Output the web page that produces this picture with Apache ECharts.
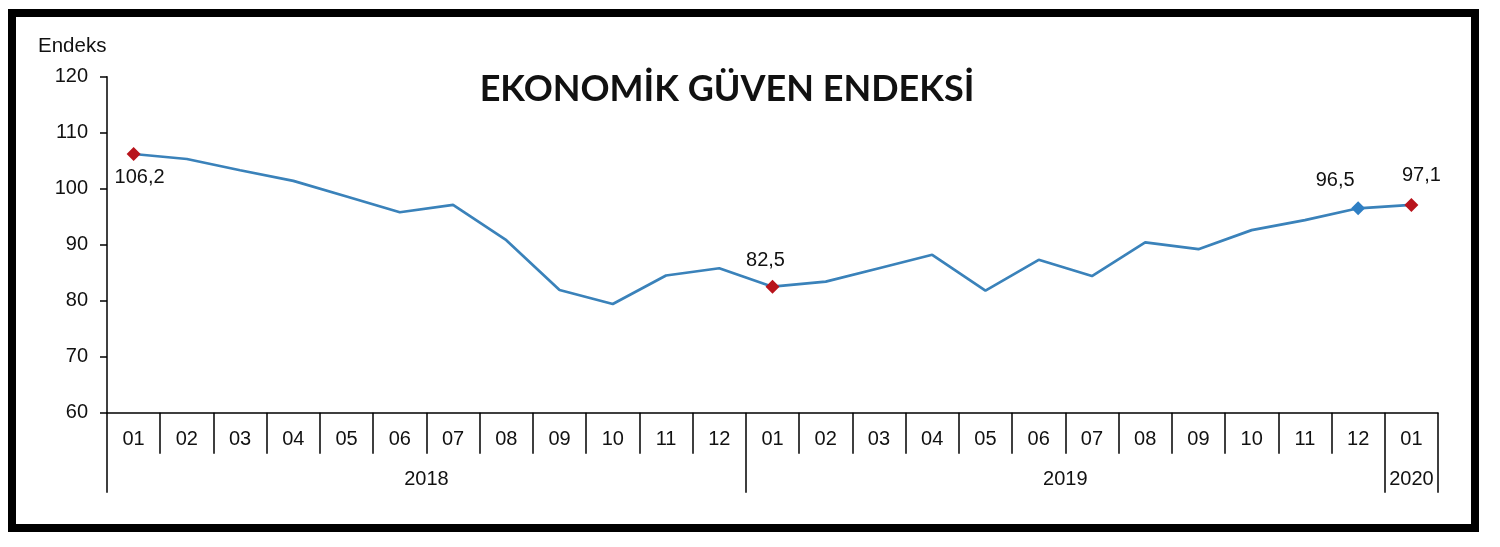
<!DOCTYPE html>
<html>
<head>
<meta charset="utf-8">
<script src="https://cdn.jsdelivr.net/npm/echarts@6/dist/echarts.min.js"></script>
<style>
html,body{margin:0;padding:0;background:#fff;}
#chart{width:1500px;height:547px;}
</style>
</head>
<body>
<div id="chart"></div>
<script>
// ---- Data ----
var months = ['01','02','03','04','05','06','07','08','09','10','11','12',
              '01','02','03','04','05','06','07','08','09','10','11','12','01'];
var values = [106.2,105.3,103.3,101.4,98.6,95.8,97.1,90.8,81.9,79.4,84.5,85.8,
              82.5,83.4,85.8,88.2,81.8,87.3,84.4,90.4,89.2,92.6,94.4,96.5,97.1];
var yearNames = ['2018','2019','2020'];
var yearStarts = [0,12,24];          // category index where each year starts
var yearEnds = [12,24,25];           // category index (exclusive) where each year ends
var redPoints = [0,12,24];
var bluePoints = [23];
var yTicks = [60,70,80,90,100,110,120];

var FONT = 'Liberation Sans';
var lineColor = '#3a82ba';
var red = '#b8141c';
var blue = '#2f7fc4';

function fmt(v){ return String(v.toFixed(1)).replace('.', ','); }

var labelCfg = {
  0:  {position:'bottom', distance:7, offset:[6,0]},
  12: {position:'top', distance:9, offset:[-7,0]},
  23: {position:'top', distance:11, offset:[-23,0]},
  24: {position:'top', distance:12, offset:[10,0]}
};

var seriesData = values.map(function(v,i){
  var isRed = redPoints.indexOf(i) >= 0, isBlue = bluePoints.indexOf(i) >= 0;
  var d = {value: v};
  if (isRed || isBlue) {
    d.symbol = 'diamond';
    d.symbolSize = 14;
    d.itemStyle = {color: isRed ? red : blue};
    var lc = labelCfg[i];
    d.label = {show:true, position:lc.position, distance:lc.distance, offset:lc.offset,
      formatter: function(p){ return fmt(p.value); },
      fontFamily: FONT, fontSize: 20, color:'#111'};
  } else {
    d.symbol = 'none';
  }
  return d;
});

var yearLabelPos = yearNames.map(function(n,i){ return (yearStarts[i]+yearEnds[i])/2; });
var yearTickPos = [0].concat(yearEnds);

var chart = echarts.init(document.getElementById('chart'), null, {renderer:'canvas'});
chart.setOption({
  animation:false,
  backgroundColor:'#fff',
  grid:{left:107, right:62, top:76.7, bottom:134.3, containLabel:false},
  xAxis:[{
    type:'category',
    data:months,
    boundaryGap:true,
    axisLine:{show:true, lineStyle:{color:'#000', width:1.5}},
    axisTick:{show:true, interval:0, length:41, lineStyle:{color:'#000', width:1.5}},
    axisLabel:{interval:0, margin:17, fontFamily:FONT, fontSize:20, color:'#111'},
    splitLine:{show:false}
  },{
    type:'value',
    position:'bottom',
    min:0, max:25,
    axisLine:{show:false},
    axisTick:{show:true, customValues:yearTickPos, length:80, lineStyle:{color:'#000', width:1.5}},
    axisLabel:{customValues:yearLabelPos, margin:57, fontFamily:FONT, fontSize:20, color:'#111',
      formatter:function(v){ var i = yearLabelPos.indexOf(v); return i>=0 ? yearNames[i] : ''; }},
    splitLine:{show:false}
  }],
  yAxis:{
    type:'value',
    min:yTicks[0], max:yTicks[yTicks.length-1], interval:10,
    axisLine:{show:true, lineStyle:{color:'#000', width:1.5}},
    axisTick:{show:true, length:7, lineStyle:{color:'#000', width:1.5}},
    axisLabel:{margin:19, fontFamily:FONT, fontSize:20, color:'#111'},
    splitLine:{show:false}
  },
  series:[{
    type:'line',
    data:seriesData,
    xAxisIndex:0,
    lineStyle:{color:lineColor, width:2.7},
    itemStyle:{color:lineColor},
    z:3
  }],
  graphic:[
    {type:'rect', shape:{x:12, y:13, width:1463, height:515},
     style:{fill:'none', stroke:'#000', lineWidth:8}, z:100},
    {type:'text', x:727, y:89.5,
     style:{text:'EKONOMİK GÜVEN ENDEKSİ', fontFamily:'Lato', fontWeight:'bold', fontSize:36,
            fill:'#111', align:'center', verticalAlign:'middle'}},
    {type:'text', x:38, y:46,
     style:{text:'Endeks', fontFamily:FONT, fontSize:20.5, fill:'#111', align:'left', verticalAlign:'middle'}}
  ]
});
</script>
</body>
</html>
